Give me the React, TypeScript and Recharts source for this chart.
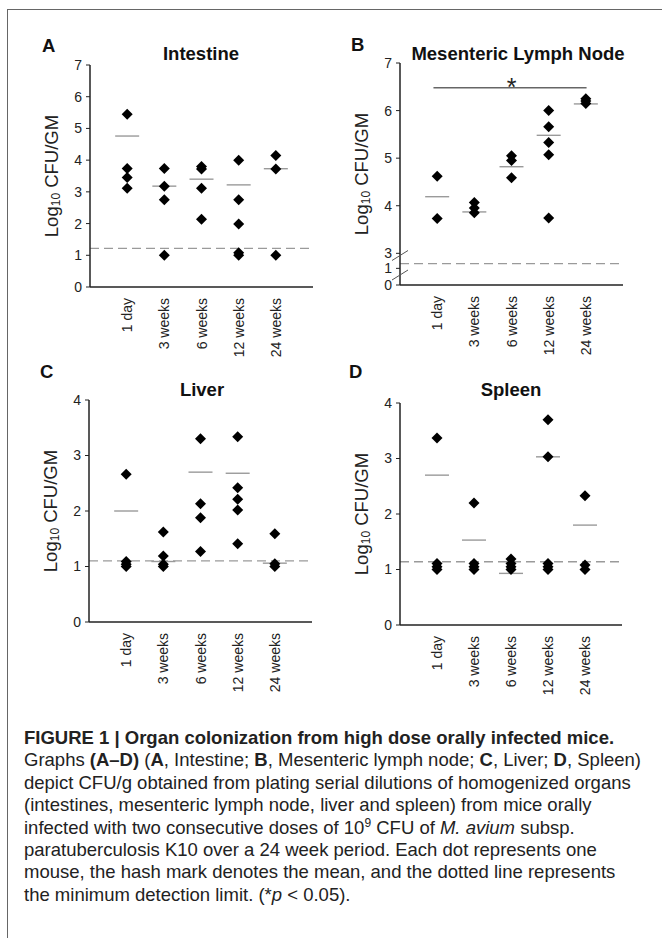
import type { ReactElement } from "react";
import { ReferenceDot, ReferenceLine, Scatter, ScatterChart, XAxis, YAxis } from "recharts";

const TIMEPOINTS = ["1 day", "3 weeks", "6 weeks", "12 weeks", "24 weeks"];

// log10 CFU/g per mouse, one list per timepoint
const INTESTINE_POINTS = [
  [5.45, 3.74, 3.45, 3.11],
  [3.74, 3.18, 2.75, 1.0],
  [3.8, 3.72, 3.11, 2.14],
  [4.0, 2.75, 1.99, 1.08, 1.0],
  [4.15, 3.72, 1.0],
];
const INTESTINE_MEANS = [4.76, 3.18, 3.4, 3.22, 3.73];
const INTESTINE_LIMIT = 1.22;

const MLN_POINTS = [
  [4.62, 3.73],
  [4.07, 3.95, 3.85],
  [5.05, 4.95, 4.59],
  [6.0, 5.66, 5.33, 5.07, 3.74],
  [6.25, 6.2, 6.15],
];
const MLN_MEANS = [4.19, 3.87, 4.82, 5.48, 6.14];
const MLN_LIMIT = 1.28;
const MLN_SIGNIFICANCE = 6.48;

const LIVER_POINTS = [
  [2.66, 1.09, 1.04, 1.0],
  [1.62, 1.19, 1.04, 1.0],
  [3.3, 2.13, 1.88, 1.27],
  [3.34, 2.42, 2.21, 2.02, 1.41],
  [1.59, 1.05, 1.0],
];
const LIVER_MEANS = [2.0, 1.09, 2.7, 2.68, 1.06];
const LIVER_LIMIT = 1.1;

const SPLEEN_POINTS = [
  [3.37, 1.11, 1.05, 1.0],
  [2.2, 1.11, 1.05, 1.0],
  [1.19, 1.11, 1.05, 1.0],
  [3.7, 3.03, 1.11, 1.05, 1.0],
  [2.33, 1.08, 1.0],
];
const SPLEEN_MEANS = [2.7, 1.53, 0.93, 3.03, 1.8];
const SPLEEN_LIMIT = 1.14;

const TICKS_0_7 = [0, 1, 2, 3, 4, 5, 6, 7];
const TICKS_MLN = [0, 1, 3, 4, 5, 6, 7];
const TICKS_0_4 = [0, 1, 2, 3, 4];

const FONT = '"Liberation Sans", Arial, Helvetica, sans-serif';
const INK = "#222";
const MEAN_GREY = "#9a9a9a";

// broken axis for the lymph node panel: 0-1 squeezed, 3-7 linear
const identity = (v: number) => v;
function mlnScale(v: number): number {
  return v >= 3 ? v - 3 + 0.666 : v * 0.35;
}
// where the two break slashes sit, in the scaled units above
const MLN_BREAKS = [0.62, 0.21];

type PanelProps = {
  left: number;
  top: number;
  height: number;
  margin: { top: number; right: number; bottom: number; left: number };
  points: number[][];
  means: number[];
  limit: number;
  ticks: number[];
  scale: (v: number) => number;
  breakMarks?: number[];
  significance?: number;
};

function Diamond(props: { cx?: number; cy?: number }): ReactElement {
  const { cx = 0, cy = 0 } = props;
  return (
    <polygon
      points={`${cx},${cy - 5.5} ${cx + 5.5},${cy} ${cx},${cy + 5.5} ${cx - 5.5},${cy}`}
      fill="#000"
    />
  );
}

function MeanMark(props: { cx?: number; cy?: number }): ReactElement {
  const { cx = 0, cy = 0 } = props;
  return <line x1={cx - 12} x2={cx + 12} y1={cy} y2={cy} stroke={MEAN_GREY} strokeWidth={1.4} />;
}

function CategoryTick(props: { x?: number; y?: number; payload?: { value: number } }): ReactElement {
  const { x = 0, y = 0, payload } = props;
  const label = TIMEPOINTS[(payload?.value ?? 1) - 1];
  return (
    <text
      x={x}
      y={y}
      transform={`rotate(-90 ${x} ${y})`}
      textAnchor="end"
      dominantBaseline="central"
      fontSize={14}
      fontFamily={FONT}
      fill={INK}
    >
      {label}
    </text>
  );
}

function YTitle(props: { viewBox?: { x: number; y: number; width: number; height: number } }): ReactElement {
  const vb = props.viewBox ?? { x: 0, y: 0, width: 0, height: 0 };
  const x = vb.x + vb.width - 39;
  const y = vb.y + vb.height / 2;
  return (
    <text
      x={x}
      y={y}
      transform={`rotate(-90 ${x} ${y})`}
      textAnchor="middle"
      dominantBaseline="central"
      fontSize={18.5}
      fontFamily={FONT}
      fill={INK}
    >
      Log
      <tspan fontSize={12} dy={5}>
        10
      </tspan>
      <tspan dy={-5}> CFU/GM</tspan>
    </text>
  );
}

function BreakMark(props: { cx?: number; cy?: number }): ReactElement {
  const { cx = 0, cy = 0 } = props;
  return <line x1={cx - 8} x2={cx + 8} y1={cy + 5} y2={cy - 5} stroke="#555" strokeWidth={1} />;
}

function Asterisk(props: { cx?: number; cy?: number }): ReactElement {
  const { cx = 0, cy = 0 } = props;
  return (
    <text x={cx} y={cy + 8} textAnchor="middle" fontSize={25} fontFamily={FONT} fill={INK}>
      *
    </text>
  );
}

function Panel({
  left,
  top,
  height,
  margin,
  points,
  means,
  limit,
  ticks,
  scale,
  breakMarks,
  significance,
}: PanelProps): ReactElement {
  const diamonds = points.flatMap((values, i) => values.map((v) => ({ x: i + 1, y: scale(v) })));
  const meanData = means.map((m, i) => ({ x: i + 1, y: scale(m) }));
  const tickValues = ticks.map(scale);
  const yMax = scale(ticks[ticks.length - 1]);

  return (
    <div style={{ position: "absolute", left, top }}>
      <ScatterChart width={331} height={height} margin={margin}>
        <XAxis
          type="number"
          dataKey="x"
          domain={[0, 6]}
          ticks={[1, 2, 3, 4, 5]}
          tick={<CategoryTick />}
          tickLine={false}
          tickSize={0}
          tickMargin={11}
          height={70}
          interval={0}
          axisLine={{ stroke: INK, strokeWidth: 1.5 }}
          allowDataOverflow
        />
        <YAxis
          type="number"
          dataKey="y"
          domain={[0, yMax]}
          ticks={tickValues}
          interval={0}
          width={40}
          tickSize={4}
          tickMargin={4}
          tickLine={{ stroke: INK }}
          axisLine={{ stroke: INK, strokeWidth: 1.5 }}
          tick={{ fontSize: 14, fill: INK, fontFamily: FONT }}
          tickFormatter={(v: number) => {
            const i = tickValues.findIndex((t) => Math.abs(t - v) < 1e-6);
            return i >= 0 ? String(ticks[i]) : "";
          }}
          label={(p: any) => <YTitle viewBox={p.viewBox} />}
          allowDataOverflow
        />
        <ReferenceLine
          y={scale(limit)}
          stroke={MEAN_GREY}
          strokeWidth={1.3}
          strokeDasharray="9 5"
        />
        {significance !== undefined && (
          <ReferenceLine
            segment={[
              { x: 0.9, y: scale(significance) },
              { x: 5.02, y: scale(significance) },
            ]}
            stroke="#666"
            strokeWidth={1.6}
          />
        )}
        {significance !== undefined && (
          <ReferenceDot x={3} y={scale(significance)} r={0} shape={<Asterisk />} ifOverflow="visible" />
        )}
        {breakMarks?.map((b) => (
          <ReferenceDot key={b} x={0} y={b} r={0} shape={<BreakMark />} ifOverflow="visible" />
        ))}
        <Scatter data={meanData} shape={<MeanMark />} isAnimationActive={false} />
        <Scatter data={diamonds} shape={<Diamond />} isAnimationActive={false} />
      </ScatterChart>
    </div>
  );
}

const textStyle = { fontFamily: FONT, fill: "#111" };

export default function App(): ReactElement {
  return (
    <div
      style={{
        position: "relative",
        width: 662,
        height: 938,
        overflow: "hidden",
        background: "#fff",
        fontFamily: FONT,
      }}
    >
      <style>{"body{margin:0}"}</style>
      <div
        style={{
          position: "absolute",
          left: 7,
          top: 9,
          width: 700,
          height: 1000,
          borderTop: "1.5px solid #666",
          borderLeft: "1.5px solid #666",
        }}
      />
      <Panel
        left={0}
        top={0}
        height={370}
        margin={{ top: 65, right: 18, bottom: 13, left: 50 }}
        points={INTESTINE_POINTS}
        means={INTESTINE_MEANS}
        limit={INTESTINE_LIMIT}
        ticks={TICKS_0_7}
        scale={identity}
      />
      <Panel
        left={331}
        top={0}
        height={370}
        margin={{ top: 63, right: 39, bottom: 15, left: 29 }}
        points={MLN_POINTS}
        means={MLN_MEANS}
        limit={MLN_LIMIT}
        ticks={TICKS_MLN}
        scale={mlnScale}
        breakMarks={MLN_BREAKS}
        significance={MLN_SIGNIFICANCE}
      />
      <Panel
        left={0}
        top={370}
        height={340}
        margin={{ top: 30, right: 19, bottom: 18, left: 49 }}
        points={LIVER_POINTS}
        means={LIVER_MEANS}
        limit={LIVER_LIMIT}
        ticks={TICKS_0_4}
        scale={identity}
      />
      <Panel
        left={331}
        top={370}
        height={340}
        margin={{ top: 33, right: 40, bottom: 15, left: 29 }}
        points={SPLEEN_POINTS}
        means={SPLEEN_MEANS}
        limit={SPLEEN_LIMIT}
        ticks={TICKS_0_4}
        scale={identity}
      />
      <svg
        width={662}
        height={720}
        style={{ position: "absolute", left: 0, top: 0, pointerEvents: "none" }}
      >
        <g fontWeight="bold" fontSize={18.5} style={textStyle}>
          <text x={42} y={52}>A</text>
          <text x={351} y={51}>B</text>
          <text x={40} y={378}>C</text>
          <text x={349} y={378}>D</text>
          <text x={201} y={60} textAnchor="middle">Intestine</text>
          <text x={518} y={60} textAnchor="middle">Mesenteric Lymph Node</text>
          <text x={202} y={396} textAnchor="middle">Liver</text>
          <text x={511} y={396} textAnchor="middle">Spleen</text>
        </g>
      </svg>
      <div
        style={{
          position: "absolute",
          left: 24,
          top: 727,
          fontSize: 18.5,
          lineHeight: "22.4px",
          color: "#222",
          whiteSpace: "nowrap",
        }}
      >
        <b>FIGURE 1 | Organ colonization from high dose orally infected mice.</b>
        <br />
        Graphs <b>(A–D)</b> (<b>A</b>, Intestine; <b>B</b>, Mesenteric lymph node; <b>C</b>, Liver;{" "}
        <b>D</b>, Spleen)
        <br />
        depict CFU/g obtained from plating serial dilutions of homogenized organs
        <br />
        (intestines, mesenteric lymph node, liver and spleen) from mice orally
        <br />
        infected with two consecutive doses of 10
        <sup style={{ fontSize: 12, lineHeight: 0 }}>9</sup> CFU of <i>M. avium</i> subsp.
        <br />
        paratuberculosis K10 over a 24 week period. Each dot represents one
        <br />
        mouse, the hash mark denotes the mean, and the dotted line represents
        <br />
        the minimum detection limit. (*<i>p</i> &lt; 0.05).
      </div>
    </div>
  );
}
